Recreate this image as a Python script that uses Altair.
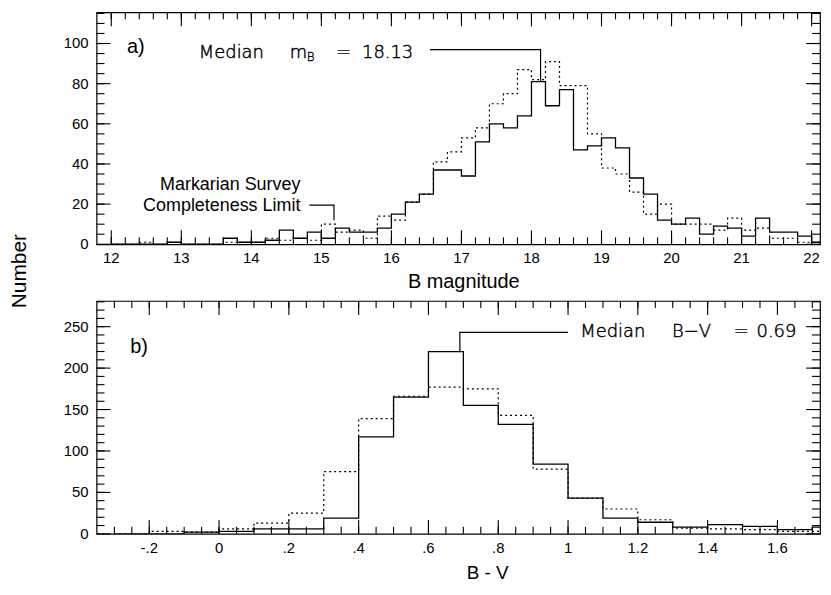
import altair as alt
import pandas as pd

# ---------------- panel a) : B magnitude histogram (bin edges, width 0.2) ----------------
bmag_edges = [12.0, 12.2, 12.4, 12.6, 12.8, 13.0, 13.2, 13.4, 13.6, 13.8,
              14.0, 14.2, 14.4, 14.6, 14.8, 15.0, 15.2, 15.4, 15.6, 15.8,
              16.0, 16.2, 16.4, 16.6, 16.8, 17.0, 17.2, 17.4, 17.6, 17.8,
              18.0, 18.2, 18.4, 18.6, 18.8, 19.0, 19.2, 19.4, 19.6, 19.8,
              20.0, 20.2, 20.4, 20.6, 20.8, 21.0, 21.2, 21.4, 21.6, 21.8,
              22.0, 22.2]
bmag_solid = [0, 0, 0, 0, 1, 0, 0, 0, 3, 1,
              1, 2, 7, 3, 6, 3, 8, 6, 6, 8,
              15, 21, 25, 37, 37, 34, 51, 60, 58, 64,
              81, 69, 77, 47, 49, 53, 48, 33, 25, 12,
              10, 13, 5, 9, 8, 4, 13, 6, 6, 4,
              1]
bmag_dotted = [0, 0, 1, 0, 1, 0, 0, 0, 1, 1,
               1, 3, 2, 3, 2, 10, 6, 7, 3, 14,
               12, 21, 25, 41, 46, 53, 58, 70, 75, 87,
               82, 91, 79, 79, 55, 38, 35, 26, 15, 20,
               10, 10, 10, 7, 13, 7, 8, 3, 3, 1,
               1]

# ---------------- panel b) : B - V histogram (bin edges, width 0.1) ----------------
bv_edges = [-0.3, -0.2, -0.1, 0.0, 0.1, 0.2, 0.3, 0.4, 0.5, 0.6, 0.7,
            0.8, 0.9, 1.0, 1.1, 1.2, 1.3, 1.4, 1.5, 1.6, 1.7, 1.8]
bv_solid = [0, 0, 2, 3, 6, 6, 19, 117, 165, 220, 155,
            132, 84, 43, 19, 14, 8, 11, 9, 5, 8]
bv_dotted = [0, 3, 2, 6, 13, 25, 75, 139, 166, 177, 175,
             143, 78, 43, 30, 17, 7, 6, 5, 3, 3]

# ---------------- ticks and tick labels ----------------
bmag_major = [12, 13, 14, 15, 16, 17, 18, 19, 20, 21, 22]
bmag_labels = ["12", "13", "14", "15", "16", "17", "18", "19", "20", "21", "22"]
bmag_minor = [round(12 + 0.2 * i, 1) for i in range(51)]
na_major = [0, 20, 40, 60, 80, 100]
na_labels = ["0", "20", "40", "60", "80", "100"]
na_minor = list(range(5, 116, 5))
bv_major = [-0.2, 0, 0.2, 0.4, 0.6, 0.8, 1.0, 1.2, 1.4, 1.6]
bv_labels = ["-.2", "0", ".2", ".4", ".6", ".8", "1", "1.2", "1.4", "1.6"]
bv_minor = [round(-0.3 + 0.05 * i, 2) for i in range(41)]
nb_major = [0, 50, 100, 150, 200, 250]
nb_labels = ["0", "50", "100", "150", "200", "250"]
nb_minor = list(range(10, 281, 10))

# ---------------- annotations ----------------
a_tag = {"x": [12.35], "y": [98], "t": ["a)"]}
a_note = {"x": [13.25, 14.55, 15.21, 15.58], "y": [95.5, 95.5, 95.5, 95.5],
          "t": ["Median", "m", "=", "18.13"]}
a_sub = {"x": [14.79], "y": [93.3], "t": ["B"]}
a_mark = {"x": [14.7, 14.7], "y": [29.7, 18.8],
          "t": ["Markarian Survey", "Completeness Limit"]}
a_paths = {"g": ["m", "m", "m", "k", "k", "k"], "i": [0, 1, 2, 0, 1, 2],
           "x": [16.55, 18.13, 18.13, 14.83, 15.18, 15.18],
           "y": [97, 97, 81.3, 19.5, 19.5, 12]}

b_tag = {"x": [-0.229], "y": [225], "t": ["b)"]}
b_note = {"x": [1.035, 1.298, 1.475, 1.54], "y": [243, 243, 243, 243],
          "t": ["Median", "B\u2212V", "=", "0.69"]}
b_paths = {"g": ["m", "m", "m"], "i": [0, 1, 2],
           "x": [1.0, 0.69, 0.69], "y": [243, 243, 220]}

W = 727
HA = 233
HB = 234
MAJ = 14
MIN_X = 7
MIN_Y = 8
LABEL_FONT = "Liberation Sans"
NOTE_FONT = "DejaVu Sans"


def steps(edges, vals):
    return pd.DataFrame({"x": edges, "y": list(vals) + [vals[-1]]})


def text_layer(data, xs, ys, size, font, align, weight="normal", stroke=0.0):
    props = dict(font=font, fontSize=size, align=align, baseline="middle",
                 color="black", fontWeight=weight)
    if stroke > 0:
        props.update(stroke="black", strokeWidth=stroke)
    return alt.Chart(pd.DataFrame(data)).mark_text(**props).encode(
        x=alt.X("x:Q", scale=xs, axis=None),
        y=alt.Y("y:Q", scale=ys, axis=None),
        text="t:N",
    )


def tick_frame(xdom, ydom, h, xmaj, xmin, ymaj, ymin):
    """Inward ticks on all four sides, each a two-point segment (data units)."""
    ux = (xdom[1] - xdom[0]) / W
    uy = (ydom[1] - ydom[0]) / h
    segs = []
    for vals, ln in ((xmaj, MAJ), (xmin, MIN_X)):
        for v in vals:
            segs.append(((v, ydom[0]), (v, ydom[0] + ln * uy)))
            segs.append(((v, ydom[1]), (v, ydom[1] - ln * uy)))
    for vals, ln in ((ymaj, MAJ), (ymin, MIN_Y)):
        for v in vals:
            segs.append(((xdom[0], v), (xdom[0] + ln * ux, v)))
            segs.append(((xdom[1], v), (xdom[1] - ln * ux, v)))
    rows = []
    for n, (p0, p1) in enumerate(segs):
        rows.append((n, 0, p0[0], p0[1]))
        rows.append((n, 1, p1[0], p1[1]))
    return pd.DataFrame(rows, columns=["id", "k", "x", "y"])


def x_labels(values, labels, xs, h):
    df = pd.DataFrame({"v": values, "lab": labels})
    return alt.Chart(df).mark_text(
        font=LABEL_FONT, fontSize=15, align="center", baseline="top", color="black"
    ).encode(x=alt.X("v:Q", scale=xs, axis=None), y=alt.value(h + 7), text="lab:N")


def y_labels(values, labels, ys):
    df = pd.DataFrame({"v": values, "lab": labels})
    return alt.Chart(df).mark_text(
        font=LABEL_FONT, fontSize=15, align="right", baseline="middle", color="black"
    ).encode(y=alt.Y("v:Q", scale=ys, axis=None), x=alt.value(-8), text="lab:N")


def title_text(text, px, py, size, angle=0):
    props = dict(font=LABEL_FONT, fontSize=size, align="center",
                 baseline="alphabetic", color="black")
    if angle:
        props["angle"] = angle
    return alt.Chart(pd.DataFrame({"t": [text]})).mark_text(**props).encode(
        x=alt.value(px), y=alt.value(py), text="t:N")


def panel(edges, solid, dotted, xdom, ydom, h, xmaj, xlab, xmin, ymaj, ylab, ymin,
          tag, notes, paths, extra):
    xs = alt.Scale(domain=xdom, nice=False, zero=False)
    ys = alt.Scale(domain=ydom, nice=False, zero=False)
    l_ticks = alt.Chart(tick_frame(xdom, ydom, h, xmaj, xmin, ymaj, ymin)).mark_line(
        color="black", strokeWidth=1.1
    ).encode(
        x=alt.X("x:Q", scale=xs, axis=None),
        y=alt.Y("y:Q", scale=ys, axis=None),
        detail="id:N",
        order="k:Q",
    )
    l_dot = alt.Chart(steps(edges, dotted)).mark_line(
        interpolate="step-after", color="black", strokeWidth=1.2,
        strokeDash=[2, 3], clip=True
    ).encode(
        x=alt.X("x:Q", scale=xs, axis=None),
        y=alt.Y("y:Q", scale=ys, axis=None),
    )
    l_sol = alt.Chart(steps(edges, solid)).mark_line(
        interpolate="step-after", color="black", strokeWidth=1.3, clip=True
    ).encode(
        x=alt.X("x:Q", scale=xs, axis=None),
        y=alt.Y("y:Q", scale=ys, axis=None),
    )
    l_path = alt.Chart(pd.DataFrame(paths)).mark_line(
        color="black", strokeWidth=1.2
    ).encode(
        x=alt.X("x:Q", scale=xs, axis=None),
        y=alt.Y("y:Q", scale=ys, axis=None),
        detail="g:N",
        order="i:Q",
    )
    l_tag = text_layer(tag, xs, ys, 20, LABEL_FONT, "center")
    l_notes = text_layer(notes, xs, ys, 18, NOTE_FONT, "left", "lighter", 0.45)
    layers = ([l_ticks, l_dot, l_sol, l_path, l_tag, l_notes,
               x_labels(xmaj, xlab, xs, h), y_labels(ymaj, ylab, ys)]
              + extra(xs, ys))
    return alt.layer(*layers).properties(width=W, height=h)


top = panel(
    bmag_edges, bmag_solid, bmag_dotted, [11.79, 22.12], [0, 115.5], HA,
    bmag_major, bmag_labels, bmag_minor, na_major, na_labels, na_minor,
    a_tag, a_note, a_paths,
    lambda xs, ys: [
        text_layer(a_sub, xs, ys, 12, NOTE_FONT, "left", "lighter", 0.35),
        text_layer(a_mark, xs, ys, 18, LABEL_FONT, "right"),
        title_text("B magnitude", 369, 277, 20),
        title_text("Number", -71, 260, 21, angle=270),
    ],
)

bottom = panel(
    bv_edges, bv_solid, bv_dotted, [-0.351, 1.722], [0, 281], HB,
    bv_major, bv_labels, bv_minor, nb_major, nb_labels, nb_minor,
    b_tag, b_note, b_paths,
    lambda xs, ys: [title_text("B - V", 393, 279, 19)],
)

chart = alt.vconcat(top, bottom, spacing=57, bounds="flush").properties(
    padding={"left": 0, "top": 0, "right": 0, "bottom": 0}
).configure_view(
    stroke="black", strokeWidth=1.2
)

chart.save("out.html", embed_options={"renderer": "svg", "actions": False})
